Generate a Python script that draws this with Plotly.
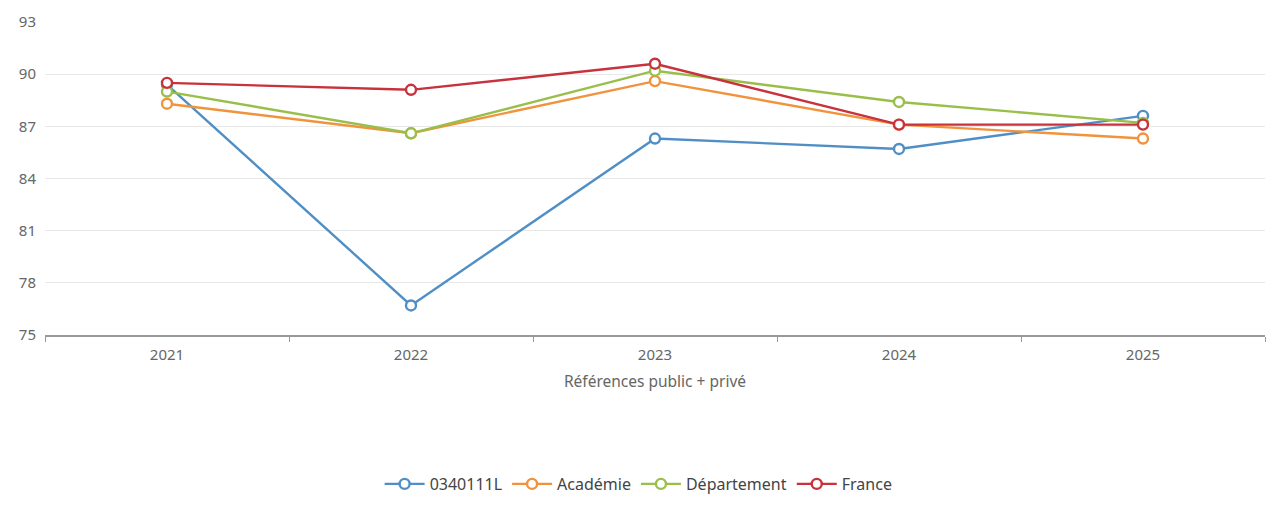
import plotly.graph_objects as go

years = ["2021", "2022", "2023", "2024", "2025"]
etab = [89.4, 76.7, 86.3, 85.7, 87.6]
academie = [88.3, 86.6, 89.6, 87.1, 86.3]
departement = [89.0, 86.6, 90.2, 88.4, 87.2]
france = [89.5, 89.1, 90.6, 87.1, 87.1]

names = ["0340111L", "Académie", "Département", "France"]
colors = ["#4f8fc6", "#f0933c", "#99bf4a", "#c8323c"]
series = [etab, academie, departement, france]

fig = go.Figure()
for name, vals, col in zip(names, series, colors):
    fig.add_trace(go.Scatter(
        x=years, y=vals, name=name, mode="lines+markers",
        line=dict(color=col, width=2.4),
        marker=dict(symbol="circle", size=10, color="white",
                    line=dict(color=col, width=2.4)),
    ))

fig.update_layout(
    width=1274, height=508,
    paper_bgcolor="white", plot_bgcolor="white",
    margin=dict(l=37, r=17, t=14, b=181, autoexpand=False),
    font=dict(family="Noto Sans, Open Sans, sans-serif", color="#666", size=15),
    showlegend=True,
    legend=dict(orientation="h", xref="container", yref="container",
                x=0.495, xanchor="center", y=0.063, yanchor="middle",
                font=dict(size=16, color="#444"), itemwidth=40,
                traceorder="normal"),
    xaxis=dict(
        type="category", range=[-0.5, 4.5], automargin=False,
        showgrid=False, showline=True, linecolor="#999", linewidth=1.5,
        ticks="outside", ticklen=5, tickcolor="#999",
        tickson="boundaries", tickfont=dict(size=15, color="#666"),
        ticklabelstandoff=5,
        title=dict(text="Références public + privé", standoff=13,
                   font=dict(size=15.5, color="#666")),
        zeroline=False,
    ),
    yaxis=dict(
        range=[75, 93], tickmode="array", tickvals=[75, 78, 81, 84, 87, 90, 93],
        automargin=False,
        showgrid=True, gridcolor="#e8e8e8", gridwidth=1,
        showline=False, zeroline=False, ticks="",
        tickfont=dict(size=15, color="#666"), ticklabelstandoff=8,
    ),
)

fig.write_html("out.html")
